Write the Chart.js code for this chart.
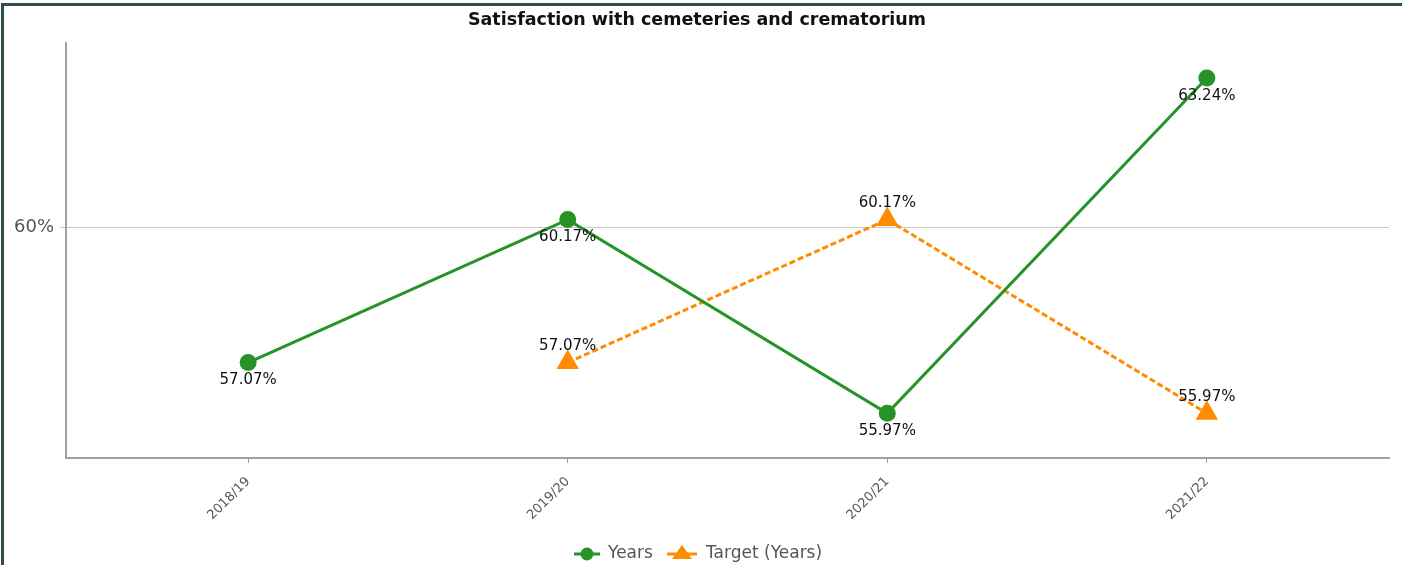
<!DOCTYPE html>
<html>
<head>
<meta charset="utf-8">
<script src="https://cdn.jsdelivr.net/npm/chart.js@4.4.1/dist/chart.umd.min.js"></script>
<style>
  html, body { margin: 0; padding: 0; background: #fff; }
  #wrap {
    position: absolute; left: 1px; top: 3px;
    width: 1398px; height: 559px;
    border-top: 3px solid #2f4f4f;
    border-left: 3px solid #2f4f4f;
  }
  canvas { display: block; }
</style>
</head>
<body>
<div id="wrap"><canvas id="chart" width="1398" height="559"></canvas></div>
<script>
const years = ['2018/19', '2019/20', '2020/21', '2021/22'];
const actual = [57.07, 60.17, 55.97, 63.24];
const target = [null, 57.07, 60.17, 55.97];
const yTicks = [60];

const green = '#259325';
const orange = '#ff8c00';

function toPoints(values) {
  return values
    .map((v, i) => (v === null ? null : { x: i, y: v }))
    .filter(p => p !== null);
}

// value labels: green below the point, orange above
const valueLabels = {
  id: 'valueLabels',
  afterDatasetsDraw(chart) {
    const ctx = chart.ctx;
    ctx.save();
    ctx.font = '15px "DejaVu Sans"';
    ctx.fillStyle = '#111';
    ctx.textAlign = 'center';
    ctx.textBaseline = 'middle';
    chart.data.datasets.forEach((ds, di) => {
      const meta = chart.getDatasetMeta(di);
      meta.data.forEach((pt, i) => {
        const v = ds.data[i].y;
        const dy = di === 0 ? 18 : -16;
        ctx.fillText(v.toFixed(2) + '%', pt.x, pt.y + dy);
      });
    });
    ctx.restore();
  }
};

// legend at the bottom, line + marker style
const bottomLegend = {
  id: 'bottomLegend',
  afterDraw(chart) {
    const ctx = chart.ctx;
    const y = 548;
    ctx.save();
    ctx.font = '17px "DejaVu Sans"';
    ctx.textBaseline = 'middle';
    ctx.fillStyle = '#555';

    ctx.strokeStyle = green;
    ctx.lineWidth = 3;
    ctx.beginPath(); ctx.moveTo(570, y); ctx.lineTo(596, y); ctx.stroke();
    ctx.fillStyle = green;
    ctx.beginPath(); ctx.arc(583, y, 6.5, 0, Math.PI * 2); ctx.fill();
    ctx.fillStyle = '#555';
    ctx.fillText('Years', 604, y);

    ctx.strokeStyle = orange;
    ctx.beginPath(); ctx.moveTo(663, y); ctx.lineTo(693, y); ctx.stroke();
    ctx.fillStyle = orange;
    ctx.beginPath();
    ctx.moveTo(678, y - 9); ctx.lineTo(688, y + 5); ctx.lineTo(668, y + 5);
    ctx.closePath(); ctx.fill();
    ctx.fillStyle = '#555';
    ctx.fillText('Target (Years)', 702, y);
    ctx.restore();
  }
};

new Chart(document.getElementById('chart'), {
  type: 'line',
  data: {
    datasets: [
      {
        label: 'Years',
        data: toPoints(actual),
        borderColor: green,
        backgroundColor: green,
        borderWidth: 3,
        pointStyle: 'circle',
        pointRadius: 7,
        pointHoverRadius: 7,
        tension: 0,
      },
      {
        label: 'Target (Years)',
        data: toPoints(target),
        borderColor: orange,
        backgroundColor: orange,
        borderWidth: 3,
        borderDash: [6, 3],
        pointStyle: 'triangle',
        pointRadius: 10,
        pointHoverRadius: 10,
        tension: 0,
      },
    ],
  },
  options: {
    responsive: false,
    animation: false,
    layout: { padding: { left: 0, right: 12, top: 0, bottom: 27 } },
    plugins: {
      legend: { display: false },
      tooltip: { enabled: false },
      title: {
        display: true,
        text: 'Satisfaction with cemeteries and crematorium',
        color: '#111',
        font: { family: 'DejaVu Sans', size: 17.5, weight: 'bold' },
        padding: { top: 4, bottom: 12 },
      },
    },
    scales: {
      x: {
        type: 'linear',
        min: -0.57,
        max: 3.57,
        afterBuildTicks(scale) {
          scale.ticks = years.map((_, i) => ({ value: i }));
        },
        afterFit(scale) { scale.height = 80; },
        ticks: {
          callback: v => years[v],
          color: '#555',
          font: { family: 'DejaVu Sans', size: 13 },
          minRotation: 45,
          maxRotation: 45,
          padding: 11,
        },
        grid: { drawOnChartArea: false, drawTicks: true, tickLength: 5, color: '#999' },
        border: { color: '#a0a0a0', width: 2 },
      },
      y: {
        min: 55,
        max: 64,
        afterBuildTicks(scale) {
          scale.ticks = yTicks.map(v => ({ value: v }));
        },
        afterFit(scale) { scale.width = 62; },
        ticks: {
          callback: v => v + '%',
          color: '#555',
          font: { family: 'DejaVu Sans', size: 18 },
          padding: 6,
        },
        grid: { color: '#c8c8c8', tickLength: 6 },
        border: { color: '#a0a0a0', width: 2 },
      },
    },
  },
  plugins: [valueLabels, bottomLegend],
});
</script>
</body>
</html>
